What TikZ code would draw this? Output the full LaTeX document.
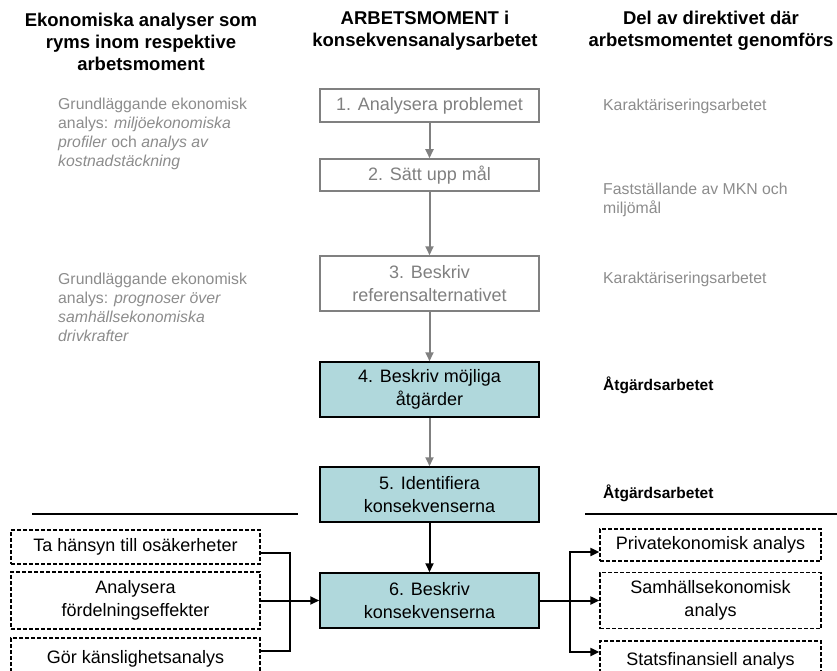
\documentclass[tikz,border=0pt]{standalone}
\usepackage{fontspec}
\setmainfont{Liberation Sans}
\usetikzlibrary{arrows.meta,calc}
\definecolor{graytxt}{HTML}{8C8C8C}
\definecolor{grayline}{HTML}{808080}
\definecolor{boxblue}{HTML}{B0D8DC}
\begin{document}
\begin{tikzpicture}[x=1pt,y=-1pt,
  hdr/.style={font=\fontsize{18.5}{22}\selectfont\bfseries, align=center, inner sep=0pt},
  graytext/.style={font=\fontsize{15.8}{19}\selectfont, text=graytxt, align=left, inner sep=0pt, anchor=west},
  boldnote/.style={font=\fontsize{15.5}{19}\selectfont\bfseries, inner sep=0pt, anchor=west},
  stepbase/.style={line width=1.5pt, font=\fontsize{18}{23}\selectfont, align=center, minimum width=219pt, inner sep=0pt},
  graybox/.style={stepbase, draw=grayline, fill=white, text=grayline},
  bluebox/.style={stepbase, draw=black, fill=boxblue, text=black},
  dbox/.style={draw=black, line width=1.3pt, dash pattern=on 4pt off 2pt, font=\fontsize{18}{23}\selectfont, align=center, inner sep=0pt},
  garrow/.style={draw=grayline, line width=2pt, -{Triangle[length=9pt,width=8pt]}},
  barrow/.style={draw=black, line width=2pt, -{Triangle[length=9pt,width=8pt]}},
  link/.style={draw=black, line width=2pt},
  rule/.style={draw=black, line width=1.5pt}
]
\useasboundingbox (0,0) rectangle (837,671);
\clip (0,0) rectangle (837,671);

% headers
\node[hdr] (h1) at (141,42) {Ekonomiska analyser som\\ryms inom respektive\\arbetsmoment};
\node[hdr] (h2) at (425,31) {ARBETSMOMENT i\\konsekvensanalysarbetet};
\node[hdr] (h3) at (711,31) {Del av direktivet där\\arbetsmomentet genomförs};

% left notes
\node[graytext] (l1) at (58,134) {Grundläggande ekonomisk\\analys: \textit{miljöekonomiska}\\\textit{profiler} och \textit{analys av}\\\textit{kostnadstäckning}};
\node[graytext] (l2) at (58,307) {Grundläggande ekonomisk\\analys: \textit{prognoser över}\\\textit{samhällsekonomiska}\\\textit{drivkrafter}};

% right notes
\node[graytext] (r1) at (603,106) {Karaktäriseringsarbetet};
\node[graytext] (r2) at (603,199.5) {Fastställande av MKN och\\miljömål};
\node[graytext] (r3) at (603,279) {Karaktäriseringsarbetet};
\node[boldnote] (r4) at (603,385) {Åtgärdsarbetet};
\node[boldnote] (r5) at (603,493) {Åtgärdsarbetet};

% steps
\node[graybox, minimum height=33pt] (b1) at (429.5,105.5) {1. Analysera problemet};
\node[graybox, minimum height=32pt] (b2) at (429.5,175) {2. Sätt upp mål};
\node[graybox, minimum height=55pt] (b3) at (429.5,283.5) {3. Beskriv\\referensalternativet};
\node[bluebox, minimum height=55pt] (b4) at (429.5,389.5) {4. Beskriv möjliga\\åtgärder};
\node[bluebox, minimum height=55pt] (b5) at (429.5,494.5) {5. Identifiera\\konsekvenserna};
\node[bluebox, minimum height=55pt] (b6) at (429.5,600.5) {6. Beskriv\\konsekvenserna};

\draw[garrow] (b1) -- (b2);
\draw[garrow] (b2) -- (b3);
\draw[garrow] (b3) -- (b4);
\draw[garrow] (b4) -- (b5);
\draw[barrow] (b5) -- (b6);

% separator rules
\draw[rule] (32,514) -- (298,514);
\draw[rule] (585,514) -- (837,514);

% left dashed boxes
\node[dbox, minimum width=249pt, minimum height=34pt] (A) at (135.5,547) {Ta hänsyn till osäkerheter};
\node[dbox, minimum width=249pt, minimum height=57pt] (B) at (135.5,600.5) {Analysera\\fördelningseffekter};
\node[dbox, minimum width=249pt, minimum height=42pt] (C) at (135.5,659) {Gör känslighetsanalys};

% right dashed boxes
\node[dbox, minimum width=221pt, minimum height=32pt] (P) at (710.5,545) {Privatekonomisk analys};
\node[dbox, minimum width=221pt, minimum height=56pt] (S) at (710.5,600.5) {Samhällsekonomisk\\analys};
\node[dbox, minimum width=221pt, minimum height=40pt] (St) at (710.5,661) {Statsfinansiell analys};

% connectors
\coordinate (j1) at (290,600.5);
\coordinate (j2) at (570,600.5);
\draw[link] ([yshift=-6pt]A.east) -| (j1);
\draw[link] ([yshift=8pt]C.east) -| (j1);
\draw[barrow] (B.east) -- (b6.west);
\draw[barrow] (b6.east) -- (S.west);
\draw[barrow] (j2) |- ([yshift=-7pt]P.west);
\draw[barrow] (j2) |- ([yshift=9pt]St.west);
\end{tikzpicture}
\end{document}
